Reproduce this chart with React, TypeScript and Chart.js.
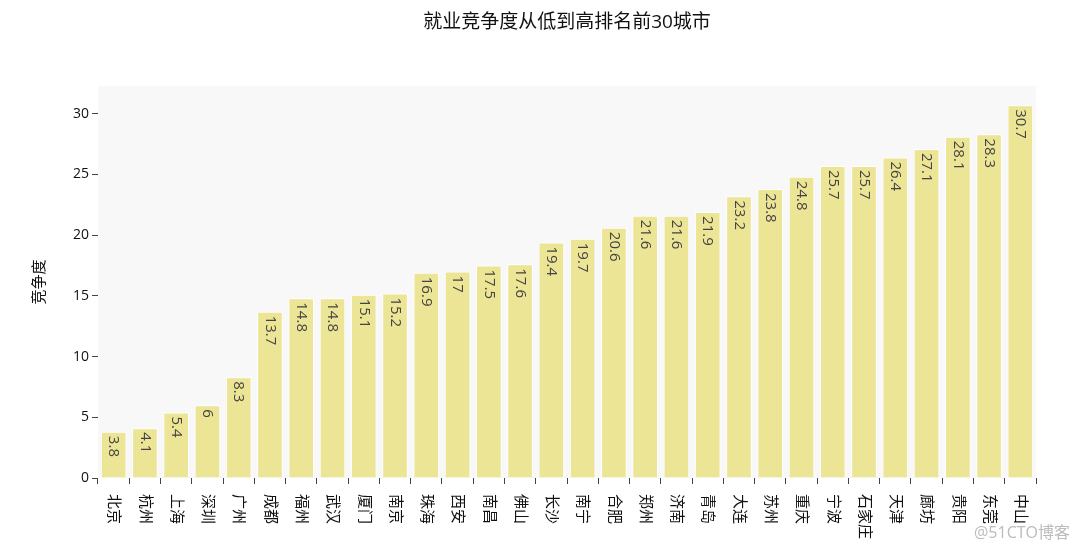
import React, { useEffect, useRef } from "react";
import { Chart, registerables } from "chart.js";

Chart.register(...registerables);

const TITLE = "就业竞争度从低到高排名前30城市";
const Y_TITLE = "竞争度";
const WATERMARK = "@51CTO博客";

const cities = [
  "北京", "杭州", "上海", "深圳", "广州", "成都", "福州", "武汉", "厦门", "南京",
  "珠海", "西安", "南昌", "佛山", "长沙", "南宁", "合肥", "郑州", "济南", "青岛",
  "大连", "苏州", "重庆", "宁波", "石家庄", "天津", "廊坊", "贵阳", "东莞", "中山",
];

const competition = [
  3.8, 4.1, 5.4, 6, 8.3, 13.7, 14.8, 14.8, 15.1, 15.2,
  16.9, 17, 17.5, 17.6, 19.4, 19.7, 20.6, 21.6, 21.6, 21.9,
  23.2, 23.8, 24.8, 25.7, 25.7, 26.4, 27.1, 28.1, 28.3, 30.7,
];

const yTickValues = [0, 5, 10, 15, 20, 25, 30];

const FONT = '"Open Sans", "Noto Sans CJK SC", sans-serif';

const bgPlugin = {
  id: "plotBg",
  beforeDraw(chart: any) {
    const { ctx, chartArea } = chart;
    ctx.save();
    ctx.fillStyle = "#ffffff";
    ctx.fillRect(0, 0, chart.width, chart.height);
    ctx.fillStyle = "#f8f8f8";
    ctx.fillRect(chartArea.left, chartArea.top, chartArea.right - chartArea.left, chartArea.bottom - chartArea.top);
    ctx.restore();
  },
};

const labelsPlugin = {
  id: "rotLabels",
  afterDatasetsDraw(chart: any) {
    const { ctx, chartArea } = chart;
    const meta = chart.getDatasetMeta(0);
    const xScale = chart.scales.x;
    ctx.save();
    // value labels inside bars
    ctx.font = `15px ${FONT}`;
    ctx.fillStyle = "#444";
    ctx.textAlign = "left";
    ctx.textBaseline = "middle";
    meta.data.forEach((bar: any, i: number) => {
      const v = chart.data.datasets[0].data[i];
      ctx.save();
      ctx.translate(bar.x, bar.y + 4);
      ctx.rotate(Math.PI / 2);
      ctx.fillText(String(v), 0, 0);
      ctx.restore();
    });
    // category labels below axis
    ctx.font = `15px ${FONT}`;
    ctx.fillStyle = "#111";
    chart.data.labels.forEach((lab: string, i: number) => {
      const x = xScale.getPixelForTick(i);
      ctx.save();
      ctx.translate(x, chartArea.bottom + 16);
      ctx.rotate(Math.PI / 2);
      ctx.textAlign = "left";
      ctx.textBaseline = "middle";
      ctx.fillText(lab, 0, 0);
      ctx.restore();
    });
    // watermark
    ctx.font = `16px ${FONT}`;
    ctx.fillStyle = "rgba(170,170,170,0.8)";
    ctx.textAlign = "right";
    ctx.textBaseline = "middle";
    ctx.fillText(WATERMARK, 1070, 533);
    ctx.restore();
  },
};

export default function App() {
  const ref = useRef<HTMLCanvasElement>(null);
  useEffect(() => {
    document.body.style.margin = "0";
    const canvas = ref.current!;
    const chart = new Chart(canvas, {
      type: "bar",
      data: {
        labels: cities,
        datasets: [
          {
            data: competition,
            backgroundColor: "#ede596",
            borderColor: "#ffffff",
            borderWidth: 1,
            categoryPercentage: 1,
            barPercentage: 0.82,
          },
        ],
      },
      options: {
        animation: false,
        responsive: false,
        devicePixelRatio: 1,
        layout: { padding: { left: 0, right: 44, top: 0, bottom: 0 } },
        plugins: {
          legend: { display: false },
          tooltip: { enabled: false },
          title: {
            display: true,
            text: TITLE,
            fullSize: false,
            color: "#111",
            font: { family: FONT, size: 19, weight: "normal" },
            padding: { top: 11, bottom: 52 },
          },
        },
        scales: {
          x: {
            grid: { display: true, drawOnChartArea: false, drawTicks: true, tickLength: 6, color: "#444" },
            border: { display: false },
            ticks: { display: false },
            afterFit(scale: any) {
              scale.height = 72;
            },
          },
          y: {
            min: 0,
            max: 32.3,
            grid: { display: true, drawOnChartArea: false, drawTicks: true, tickLength: 6, color: "#444" },
            border: { display: false },
            ticks: {
              stepSize: 5,
              color: "#111",
              padding: 3,
              font: { family: FONT, size: 14 },
            },
            afterBuildTicks(scale: any) {
              scale.ticks = yTickValues.map((v) => ({ value: v }));
            },
            title: {
              display: true,
              text: Y_TITLE,
              color: "#111",
              font: { family: FONT, size: 15 },
              padding: { top: 31, bottom: 0 },
            },
            afterFit(scale: any) {
              scale.width = 98;
            },
          },
        },
      } as any,
      plugins: [bgPlugin, labelsPlugin],
    });
    return () => chart.destroy();
  }, []);
  return (
    <div style={{ width: 1080, height: 550 }}>
      <canvas ref={ref} width={1080} height={550} style={{ display: "block" }} />
    </div>
  );
}
